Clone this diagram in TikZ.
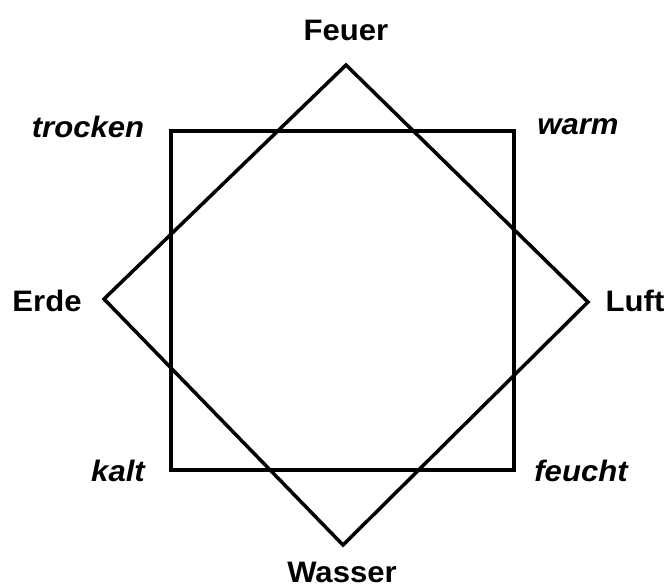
\documentclass[tikz,border=0pt]{standalone}
\usepackage{fontspec}
\setmainfont{Liberation Sans}[FakeStretch=1.05]
\usepackage{tikz}
\usetikzlibrary{positioning,calc}
\tikzset{
  element/.style={font=\fontsize{14.8}{17}\selectfont\bfseries,inner sep=0pt},
  quality/.style={font=\fontsize{14.8}{17}\selectfont\bfseries\itshape,inner sep=0pt},
  frame/.style={line width=1.75pt,line join=miter,draw=black}
}

\begin{document}
\begin{tikzpicture}[x=0.5pt,y=0.5pt]
  \useasboundingbox (0,0) rectangle (672,586);
  % corners of the diamond
  \coordinate (fire) at (346,521); \coordinate (air) at (588,284);
  \coordinate (water) at (343,41); \coordinate (earth) at (104,287);
  \draw[frame] (171,116) rectangle (514,455);
  \draw[frame] (fire)--(air)--(water)--(earth)--cycle;
  % elements
  \node[element] (Feuer) at (346,556) {Feuer};
  \node[element] (Wasser) at (342,14) {Wasser};
  \node[element] (Erde) at (47,285) {Erde};
  \node[element] (Luft) at (635,285) {Luft};
  % qualities
  \node[quality] (trocken) at (88,459) {trocken};
  \node[quality] (warm) at (578,459) {warm};
  \node[quality] (kalt) at (118,115) {kalt};
  \node[quality] (feucht) at (581,115) {feucht};
\end{tikzpicture}
\end{document}
